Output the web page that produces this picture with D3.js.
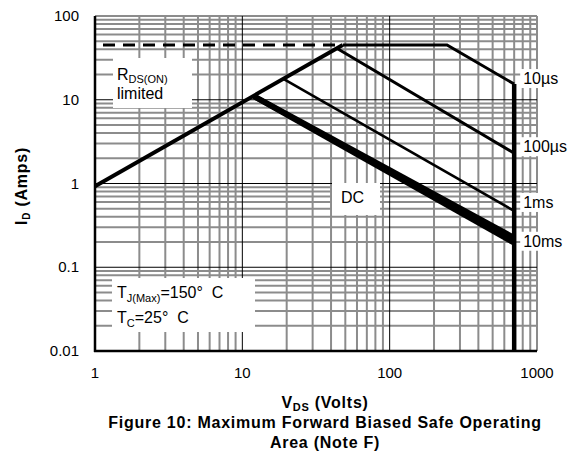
<!DOCTYPE html>
<html><head><meta charset="utf-8">
<script src="https://cdn.jsdelivr.net/npm/d3@7/dist/d3.min.js"></script>
<style>
body{margin:0;background:#fff}
svg{display:block;font-family:"Liberation Sans",Arial,Helvetica,sans-serif}
.pre{white-space:pre}
.title{font-weight:bold;font-size:16px;letter-spacing:0.75px}
</style>
</head><body>
<svg id="chart" width="573" height="457"></svg>
<script>
// Axis ticks
const xTicks = [1, 10, 100, 1000];
const xTickLabels = ["1", "10", "100", "1000"];
const yTicks = [0.01, 0.1, 1, 10, 100];
const yTickLabels = ["0.01", "0.1", "1", "10", "100"];

// Boundary curves, [V_DS (V), I_D (A)]
const rdsOnLimit   = [[1, 0.93], [48, 45]];
const currentLimit = [[1, 45], [48, 45]];
const pulse10us    = [[48, 45], [245, 45], [700, 15.4]];
const pulse100us   = [[44, 41], [700, 2.3]];
const pulse1ms     = [[19, 17.7], [700, 0.47]];
const pulse10ms    = [[12, 11], [700, 0.225]];
const dcCurve      = [[12, 11], [700, 0.195]];
const breakdownV   = [[700, 15.4], [700, 0.01]];

const curveNames = ["10µs", "100µs", "1ms", "10ms"];

const svg = d3.select("#chart");
const L = 95, R = 537, T = 16, B = 351;
const x = d3.scaleLog().domain([1, 1000]).range([L, R]);
const y = d3.scaleLog().domain([0.01, 100]).range([B, T]);

// Grid: minor lines at 2..9 of each decade, decade lines thin black
const minorX = [], minorY = [];
for (let d = 1; d < 1000; d *= 10) for (let k = 2; k <= 9; k++) minorX.push(k * d);
for (let d = 0.01; d < 99; d *= 10) for (let k = 2; k <= 9; k++) minorY.push(+(k * d).toPrecision(3));

const grid = svg.append("g");
grid.selectAll(".vx").data(minorX).join("line")
  .attr("x1", d => x(d)).attr("x2", d => x(d)).attr("y1", T).attr("y2", B)
  .attr("stroke", "#8c8c8c").attr("stroke-width", 2);
grid.selectAll(".hy").data(minorY).join("line")
  .attr("y1", d => y(d)).attr("y2", d => y(d)).attr("x1", L).attr("x2", R)
  .attr("stroke", "#8c8c8c").attr("stroke-width", 2);
grid.append("line").attr("x1", L).attr("x2", R).attr("y1", y(100)).attr("y2", y(100))
  .attr("stroke", "#8c8c8c").attr("stroke-width", 2);
grid.append("line").attr("x1", x(1000)).attr("x2", x(1000)).attr("y1", T).attr("y2", B)
  .attr("stroke", "#8c8c8c").attr("stroke-width", 2);
grid.selectAll(".mx").data([10, 100]).join("line")
  .attr("x1", d => x(d)).attr("x2", d => x(d)).attr("y1", T).attr("y2", B)
  .attr("stroke", "#000").attr("stroke-width", 1);
grid.selectAll(".my").data([0.1, 1, 10]).join("line")
  .attr("y1", d => y(d)).attr("y2", d => y(d)).attr("x1", L).attr("x2", R)
  .attr("stroke", "#000").attr("stroke-width", 1);

// White annotation panels
const panels = svg.append("g").attr("fill", "#fff");
panels.append("rect").attr("x", 113).attr("y", 58).attr("width", 79).attr("height", 50);
panels.append("rect").attr("x", 332).attr("y", 183).attr("width", 48).attr("height", 32);
panels.append("rect").attr("x", 112).attr("y", 278).attr("width", 143).attr("height", 54);

// Frame: left and bottom axes
svg.append("line").attr("x1", L).attr("x2", L).attr("y1", T).attr("y2", B + 1)
  .attr("stroke", "#000").attr("stroke-width", 2.5);
svg.append("line").attr("x1", L - 1).attr("x2", R).attr("y1", B).attr("y2", B)
  .attr("stroke", "#000").attr("stroke-width", 2.5);

// Curves
const line = d3.line().x(d => x(d[0])).y(d => y(d[1]));
const curves = svg.append("g").attr("fill", "none").attr("stroke", "#000")
  .attr("stroke-linejoin", "miter");
curves.append("path").datum(currentLimit).attr("d", line)
  .attr("stroke-width", 3).attr("stroke-dasharray", "12 8").attr("stroke-dashoffset", 12);
curves.append("path").datum(rdsOnLimit).attr("d", line).attr("stroke-width", 4);
curves.append("path").datum(pulse10us).attr("d", line).attr("stroke-width", 3);
curves.append("path").datum(pulse100us).attr("d", line).attr("stroke-width", 3);
curves.append("path").datum(pulse1ms).attr("d", line).attr("stroke-width", 2.6);
curves.append("path").datum(pulse10ms).attr("d", line).attr("stroke-width", 5.5);
curves.append("path").datum(dcCurve).attr("d", line).attr("stroke-width", 5.5);
curves.append("path").datum(breakdownV).attr("d", line).attr("stroke-width", 4.5);

// Curve end labels with white backing
const labelEnds = [pulse10us, pulse100us, pulse1ms, pulse10ms];
const labelDy = [0, -1, -3, 9];
const lg = svg.append("g");
curveNames.forEach((name, i) => {
  const end = labelEnds[i][labelEnds[i].length - 1];
  const t = lg.append("text").attr("x", x(end[0]) + 9).attr("y", y(end[1]) + labelDy[i])
    .attr("font-size", 16).text(name);
  const bb = t.node().getBBox();
  lg.insert("rect", "text").attr("x", bb.x - 3).attr("y", bb.y - 1)
    .attr("width", bb.width + 5).attr("height", bb.height + 2).attr("fill", "#fff");
});

// Tick labels
svg.append("g").selectAll("text").data(xTicks).join("text")
  .attr("x", d => x(d)).attr("y", 378).attr("text-anchor", "middle")
  .attr("font-size", 15).text((d, i) => xTickLabels[i]);
svg.append("g").selectAll("text").data(yTicks).join("text")
  .attr("x", 79).attr("y", d => y(d) + 5).attr("text-anchor", "end")
  .attr("font-size", 15).text((d, i) => yTickLabels[i]);

// Annotations
const rds = svg.append("text").attr("x", 117).attr("y", 80).attr("font-size", 16);
rds.append("tspan").text("R");
rds.append("tspan").attr("font-size", 11).attr("dy", 3).text("DS(ON)");
svg.append("text").attr("x", 117).attr("y", 99).attr("font-size", 16).text("limited");

svg.append("text").attr("x", 341).attr("y", 203).attr("font-size", 16).text("DC");

const tj = svg.append("text").attr("x", 117).attr("y", 298).attr("font-size", 16);
tj.append("tspan").text("T");
tj.append("tspan").attr("font-size", 11).attr("dy", 4).text("J(Max)");
tj.append("tspan").attr("class", "pre").attr("dy", -4).text("=150°  C");
const tc = svg.append("text").attr("x", 117).attr("y", 323).attr("font-size", 16);
tc.append("tspan").text("T");
tc.append("tspan").attr("font-size", 11).attr("dy", 4).text("C");
tc.append("tspan").attr("class", "pre").attr("dy", -4).text("=25°  C");

// Axis titles and caption
const yl = svg.append("text").attr("class", "title")
  .attr("transform", "translate(27,186) rotate(-90)").attr("text-anchor", "middle");
yl.append("tspan").text("I");
yl.append("tspan").attr("font-size", 10).attr("dy", 3).text("D");
yl.append("tspan").attr("dy", -3).text(" (Amps)");

const xl = svg.append("text").attr("class", "title").attr("x", 325).attr("y", 408)
  .attr("text-anchor", "middle");
xl.append("tspan").text("V");
xl.append("tspan").attr("font-size", 11).attr("dy", 3).text("DS");
xl.append("tspan").attr("dy", -3).text(" (Volts)");

svg.append("text").attr("class", "title").attr("x", 325).attr("y", 428)
  .attr("text-anchor", "middle")
  .text("Figure 10: Maximum Forward Biased Safe Operating");
svg.append("text").attr("class", "title").attr("x", 325).attr("y", 448)
  .attr("text-anchor", "middle")
  .text("Area (Note F)");
</script>
</body></html>
